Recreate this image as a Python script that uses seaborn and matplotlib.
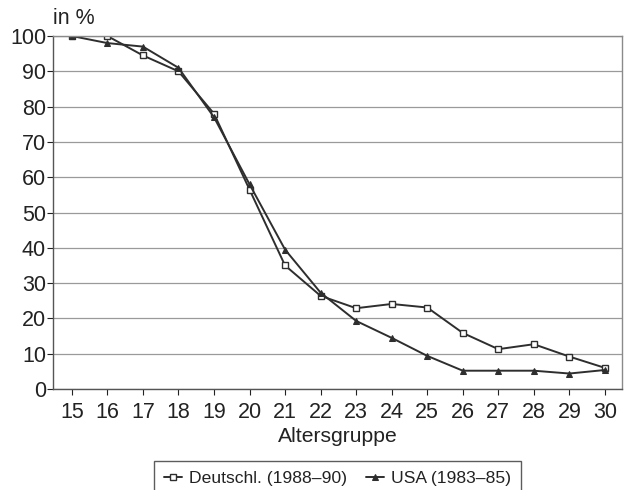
import pandas as pd
import matplotlib.pyplot as plt
import seaborn as sns

alter = list(range(15, 31))
deutschl = [100, 100, 94.5, 90, 78, 56.5, 35, 26.4, 22.9, 24.1, 23.1, 15.9, 11.3, 12.7, 9.2, 6]
usa = [100, 98, 97, 91, 77, 58, 39.5, 27.3, 19.3, 14.5, 9.4, 5.2, 5.2, 5.2, 4.4, 5.4]
y_ticks = list(range(0, 101, 10))

sns.set_style("white")
plt.rcParams['font.family'] = ['Liberation Sans', 'DejaVu Sans']

df = pd.DataFrame({"Alter": alter, "Deutschl": deutschl, "USA": usa})

fig = plt.figure(figsize=(6.28, 4.9), dpi=100)
ax = fig.add_axes([0.0844, 0.206, 0.906, 0.7205])

line_col = "#2e2e2e"
sns.lineplot(data=df, x="Alter", y="Deutschl", ax=ax, color=line_col, lw=1.4,
             marker="s", ms=4.5, markerfacecolor="white", markeredgecolor=line_col,
             markeredgewidth=1.0, label="Deutschl. (1988\u201390)")
sns.lineplot(data=df, x="Alter", y="USA", ax=ax, color=line_col, lw=1.4,
             marker="^", ms=4.5, markerfacecolor=line_col, markeredgecolor=line_col,
             label="USA (1983\u201385)")

ax.set_xlim(14.47, 30.48)
ax.set_ylim(0, 100)
ax.set_xticks(alter)
ax.set_yticks(y_ticks)
ax.tick_params(axis="both", labelsize=15.5, colors="#222", length=4, width=0.8, direction="out",
               bottom=True, left=True)
ax.tick_params(axis="x", pad=5)
ax.tick_params(axis="y", pad=1)

ax.yaxis.grid(True, color="#9a9a9a", lw=0.9)
ax.set_axisbelow(True)
for s in ax.spines.values():
    s.set_color("#8a8a8a")
    s.set_linewidth(1.0)
ax.spines["left"].set_color("#555")
ax.spines["bottom"].set_color("#555")

ax.set_xlabel("Altersgruppe", fontsize=15.2, color="#222", labelpad=3)
ax.set_ylabel("")
fig.text(0.085, 0.963, "in %", fontsize=15.5, color="#222", ha="left", va="center")

leg = ax.legend(loc="upper center", bbox_to_anchor=(0.5, -0.178), ncol=2, frameon=True,
                fancybox=False, fontsize=12.6, handlelength=1.0, handletextpad=0.4,
                columnspacing=1.1, borderpad=0.6, edgecolor="#333")
leg.get_frame().set_linewidth(1.0)
for t in leg.get_texts():
    t.set_color("#222")

fig.savefig("out.png", dpi=100)
